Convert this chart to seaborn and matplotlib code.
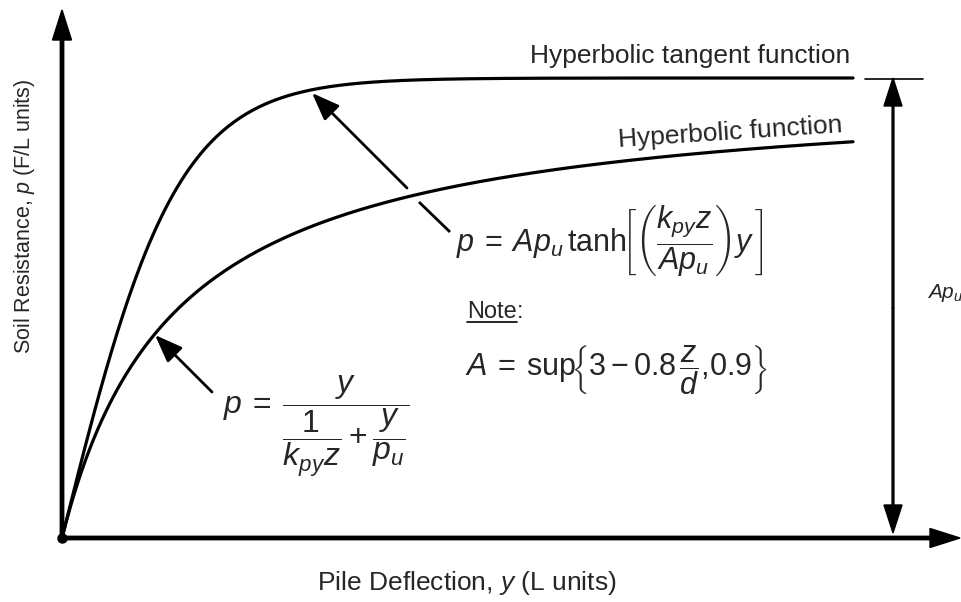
import numpy as np
import pandas as pd
import matplotlib
matplotlib.use("Agg")
import matplotlib.pyplot as plt
import seaborn as sns

# p-y model parameters (schematic units)
k_py_z = 4.0          # initial stiffness k_py * z
p_u = 453.0           # ultimate resistance for the hyperbolic curve
A_p_u = 460.0         # A * p_u, plateau of the hyperbolic tangent curve
y_max = 791.0         # last deflection drawn

deflection = np.linspace(0.0, y_max, 400)
p_tanh = A_p_u * np.tanh(k_py_z * deflection / A_p_u)
p_hyper = deflection / (1.0 / k_py_z + deflection / p_u)

curves = pd.DataFrame({
    "y": np.concatenate([deflection, deflection]),
    "p": np.concatenate([p_tanh, p_hyper]),
    "model": ["Hyperbolic tangent function"] * len(deflection)
             + ["Hyperbolic function"] * len(deflection),
})

sns.set_theme(style="white")
plt.rcParams["font.family"] = ["Liberation Sans", "DejaVu Sans"]
plt.rcParams["mathtext.fontset"] = "custom"
plt.rcParams["mathtext.rm"] = "Liberation Sans"
plt.rcParams["mathtext.it"] = "Liberation Sans:italic"
plt.rcParams["mathtext.bf"] = "Liberation Sans:bold"

fig = plt.figure(figsize=(9.62, 6.02), dpi=100)
ax = fig.add_axes([0, 0, 1, 1])
ax.set_xlim(-62, 900)
ax.set_ylim(-64, 538)
ax.axis("off")

sns.lineplot(data=curves, x="y", y="p", hue="model",
             palette={"Hyperbolic tangent function": "black",
                      "Hyperbolic function": "black"},
             linewidth=2.3, legend=False, ax=ax, estimator=None, sort=False)

# axes drawn as arrows
ax.arrow(0, 0, 0, 528, width=3.4, head_width=19, head_length=30,
         length_includes_head=True, color="black", zorder=5)
ax.arrow(0, 0, 898, 0, width=3.4, head_width=19, head_length=30,
         length_includes_head=True, color="black", zorder=5)
ax.plot([0], [0], "o", color="black", ms=6.5, zorder=6)

# dimension line for A p_u
x_dim = 831
mid = A_p_u / 2
ax.arrow(x_dim, mid, 0, A_p_u - mid, width=1.8, head_width=18, head_length=28,
         length_includes_head=True, color="black")
ax.arrow(x_dim, mid, 0, 5 - mid, width=1.8, head_width=18, head_length=28,
         length_includes_head=True, color="black")
ax.plot([803, 861], [A_p_u - 1, A_p_u - 1], color="black", lw=1.2)
ax.text(865, 245, r"$Ap_u$", fontsize=15, ha="left", va="center")

# curve labels
ax.text(788, 470, "Hyperbolic tangent function", fontsize=19,
        ha="right", va="bottom")
ax.text(668, 405, "Hyperbolic function", fontsize=19, ha="center",
        va="center", rotation=3.8, rotation_mode="anchor")

# axis titles
ax.text(405, -45, r"Pile Deflection, $y$ (L units)", fontsize=19,
        ha="center", va="center")
ax.text(-37, 322, r"Soil Resistance, $p$ (F/L units)", fontsize=15.5,
        ha="center", va="center", rotation=90)

# pointer arrows to the curves
ax.plot([388, 357], [306, 336], color="black", lw=2.0, solid_capstyle="butt")
ax.annotate("", xy=(250, 445), xytext=(345, 350),
            arrowprops=dict(arrowstyle="-|>,head_length=17,head_width=6.5",
                            mutation_scale=1, lw=2.0, color="black",
                            shrinkA=0, shrinkB=0))
ax.annotate("", xy=(93, 203), xytext=(150, 146),
            arrowprops=dict(arrowstyle="-|>,head_length=17,head_width=6.5",
                            mutation_scale=1, lw=2.0, color="black",
                            shrinkA=0, shrinkB=0))

# equations
ax.text(394, 297,
        r"$p\:=\:Ap_u\,\mathrm{tanh}\!\left[\left(\dfrac{k_{py}z}{Ap_u}\right)y\,\right]$",
        fontsize=22, ha="left", va="center")
note = ax.text(405, 226, "Note", fontsize=17, ha="left", va="center")
fig.canvas.draw()
bb = note.get_window_extent().transformed(ax.transData.inverted())
ax.text(bb.x1, 226, ":", fontsize=17, ha="left", va="center")
ax.plot([bb.x0, bb.x1], [bb.y0 + 1, bb.y0 + 1], color="black", lw=1.2)
ax.text(403, 168,
        r"$A\:=\:\mathrm{sup}\!\left\{3 - 0.8\,\dfrac{z}{d}{,}0.9\right\}$",
        fontsize=22, ha="left", va="center")
ax.text(161, 112,
        r"$p\:=\:\dfrac{y}{\dfrac{1}{k_{py}z}+\dfrac{y}{p_u}}$",
        fontsize=23, ha="left", va="center")

fig.savefig("out.png", dpi=100, facecolor="white")
